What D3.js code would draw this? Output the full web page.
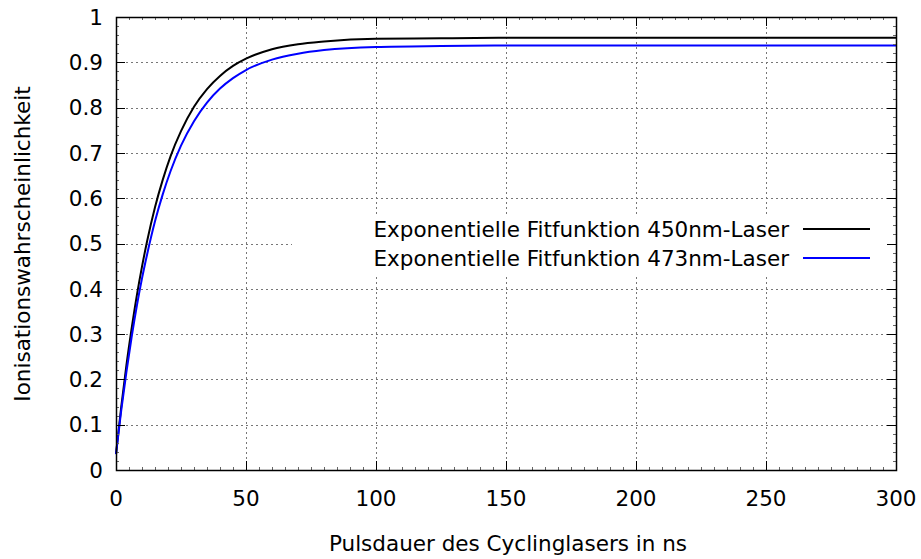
<!DOCTYPE html>
<html><head><meta charset="utf-8">
<script src="https://cdn.jsdelivr.net/npm/d3@7"></script>
<style>body{margin:0;background:#fff}svg{display:block}text{font-family:"DejaVu Sans",Verdana,sans-serif}</style>
</head><body><svg id="c" width="921" height="559"></svg>
<script>
const xTicks = [0, 50, 100, 150, 200, 250, 300];
const yTicks = [0, 0.1, 0.2, 0.3, 0.4, 0.5, 0.6, 0.7, 0.8, 0.9, 1];
const yTickLabels = ["0","0.1","0.2","0.3","0.4","0.5","0.6","0.7","0.8","0.9","1"];
const pulseNs = [0, 2, 4, 6, 8, 10, 12, 15, 18, 21, 25, 30, 35, 40, 45, 50, 60, 70, 80, 100, 125, 150, 200, 250, 300];
const fit450 = [0.035, 0.139, 0.231, 0.312, 0.385, 0.449, 0.506, 0.580, 0.641, 0.693, 0.748, 0.802, 0.841, 0.870, 0.892, 0.908, 0.929, 0.940, 0.946, 0.952, 0.953, 0.954, 0.954, 0.954, 0.954];
const fit473 = [0.035, 0.131, 0.216, 0.293, 0.362, 0.423, 0.477, 0.549, 0.609, 0.660, 0.716, 0.770, 0.811, 0.842, 0.865, 0.883, 0.906, 0.919, 0.927, 0.934, 0.936, 0.937, 0.937, 0.937, 0.937];
const seriesNames = ["Exponentielle Fitfunktion 450nm-Laser", "Exponentielle Fitfunktion 473nm-Laser"];
const seriesColors = ["#000000", "#0000ff"];
const xLabel = "Pulsdauer des Cyclinglasers in ns";
const yLabel = "Ionisationswahrscheinlichkeit";

const svg = d3.select("#c");
const L = 116, R = 896, T = 17, B = 470;
const x = d3.scaleLinear().domain([0, 300]).range([L, R]);
const y = d3.scaleLinear().domain([0, 1]).range([B, T]);
const fs = 21.5;

// grid
const grid = svg.append("g").attr("stroke", "#777").attr("stroke-width", 1).attr("stroke-dasharray", "2,3");
xTicks.slice(1, -1).forEach(t => grid.append("line").attr("x1", x(t)+0.5).attr("x2", x(t)+0.5).attr("y1", T).attr("y2", B));
yTicks.slice(1, -1).forEach(t => grid.append("line").attr("x1", L).attr("x2", R).attr("y1", Math.round(y(t))+0.5).attr("y2", Math.round(y(t))+0.5));

// opaque legend box
svg.append("rect").attr("x", 292).attr("y", 215).attr("width", 598).attr("height", 60).attr("fill", "#fff");

// curves
const line = d3.line().x((d, i) => x(pulseNs[i])).y(d => y(d)).curve(d3.curveMonotoneX);
[fit450, fit473].forEach((s, k) => {
  svg.append("path").datum(s).attr("d", line).attr("fill", "none")
    .attr("stroke", seriesColors[k]).attr("stroke-width", 2).attr("stroke-linejoin", "round");
});

// axes: minor ticks
const ax = svg.append("g").attr("stroke", "#000").attr("stroke-width", 1);
d3.range(0, 301, 5).forEach(t => {
  if (t % 50 === 0) return;
  ax.append("line").attr("x1", x(t)+0.5).attr("x2", x(t)+0.5).attr("y1", B).attr("y2", B-3).attr("stroke","#666");
  ax.append("line").attr("x1", x(t)+0.5).attr("x2", x(t)+0.5).attr("y1", T).attr("y2", T+3).attr("stroke","#666");
});
d3.range(0, 101, 2).forEach(v => {
  if (v % 10 === 0) return;
  const yy = Math.round(y(v/100))+0.5;
  ax.append("line").attr("x1", L).attr("x2", L+3).attr("y1", yy).attr("y2", yy).attr("stroke","#666");
  ax.append("line").attr("x1", R).attr("x2", R-3).attr("y1", yy).attr("y2", yy).attr("stroke","#666");
});
// major ticks
xTicks.forEach(t => {
  ax.append("line").attr("x1", x(t)+0.5).attr("x2", x(t)+0.5).attr("y1", B).attr("y2", B-9);
  ax.append("line").attr("x1", x(t)+0.5).attr("x2", x(t)+0.5).attr("y1", T).attr("y2", T+9);
});
yTicks.forEach(t => {
  const yy = Math.round(y(t))+0.5;
  ax.append("line").attr("x1", L).attr("x2", L+9).attr("y1", yy).attr("y2", yy);
  ax.append("line").attr("x1", R).attr("x2", R-9).attr("y1", yy).attr("y2", yy);
});
svg.append("rect").attr("x", L+0.5).attr("y", T+0.5).attr("width", R-L).attr("height", B-T)
  .attr("fill", "none").attr("stroke", "#000").attr("stroke-width", 1.5);

// tick labels
xTicks.forEach(t => svg.append("text").attr("x", x(t)).attr("y", 506).attr("text-anchor", "middle")
  .attr("font-size", fs).text(String(t)));
yTicks.forEach((t, i) => svg.append("text").attr("x", 103).attr("y", y(t)).attr("dy", "0.36em")
  .attr("text-anchor", "end").attr("font-size", fs).text(yTickLabels[i]));

// axis titles
svg.append("text").attr("x", 508).attr("y", 551).attr("text-anchor", "middle").attr("font-size", fs).text(xLabel);
svg.append("text").attr("transform", "translate(30,244) rotate(-90)").attr("text-anchor", "middle")
  .attr("font-size", fs).text(yLabel);

// legend
[229, 258].forEach((ly, k) => {
  svg.append("text").attr("x", 789).attr("y", ly).attr("dy", "0.36em").attr("text-anchor", "end")
    .attr("font-size", fs).text(seriesNames[k]);
  svg.append("line").attr("x1", 803).attr("x2", 870).attr("y1", ly).attr("y2", ly)
    .attr("stroke", seriesColors[k]).attr("stroke-width", 2);
});
</script></body></html>
